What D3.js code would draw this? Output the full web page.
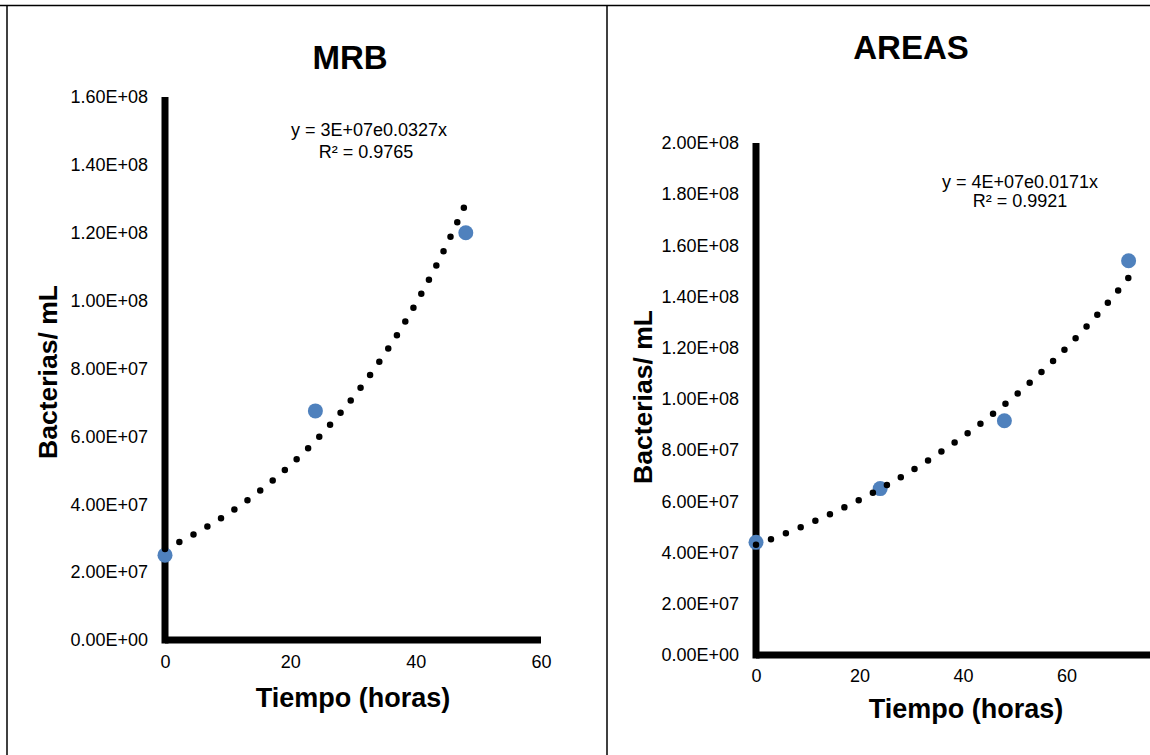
<!DOCTYPE html>
<html>
<head>
<meta charset="utf-8">
<script src="https://cdn.jsdelivr.net/npm/d3@7/dist/d3.min.js"></script>
<style>
  html, body { margin: 0; padding: 0; background: #fff; }
  svg { display: block; font-family: Arial, "Liberation Sans", sans-serif; }
</style>
</head>
<body>
<svg id="chart" width="1150" height="755"></svg>
<script>
// Bacterial growth over time, two media
const mrbHours = [0, 24, 48];
const mrbCounts = [2.5e7, 6.75e7, 1.2e8];
const mrbYTicks = [0, 2e7, 4e7, 6e7, 8e7, 1e8, 1.2e8, 1.4e8, 1.6e8];
const mrbXTicks = [0, 20, 40, 60];
const mrbEquation = ["y = 3E+07e0.0327x", "R² = 0.9765"];

const areasHours = [0, 24, 48, 72];
const areasCounts = [4.4e7, 6.5e7, 9.15e7, 1.54e8];
const areasYTicks = [0, 2e7, 4e7, 6e7, 8e7, 1e8, 1.2e8, 1.4e8, 1.6e8, 1.8e8, 2e8];
const areasXTicks = [0, 20, 40, 60];
const areasEquation = ["y = 4E+07e0.0171x", "R² = 0.9921"];

const xTitle = "Tiempo (horas)";
const yTitle = "Bacterias/ mL";

const svg = d3.select("#chart");

// sci-notation labels like 1.60E+08
function sci(v) {
  if (v === 0) return "0.00E+00";
  const s = v.toExponential(2).toUpperCase();
  const [m, e] = s.split("E");
  const sign = e[0] === "-" ? "-" : "+";
  const digits = e.replace(/[+-]/, "").padStart(2, "0");
  return m + "E" + sign + digits;
}

// least-squares exponential fit y = a·e^(b·x) on log values
function expFit(xs, ys) {
  const n = xs.length;
  const ls = ys.map(Math.log);
  const mx = d3.mean(xs), ml = d3.mean(ls);
  let sxy = 0, sxx = 0;
  for (let i = 0; i < n; i++) { sxy += (xs[i] - mx) * (ls[i] - ml); sxx += (xs[i] - mx) ** 2; }
  const b = sxy / sxx;
  const a = Math.exp(ml - b * mx);
  return { a, b };
}

// frame lines
const frame = svg.append("g").attr("stroke", "#000").attr("stroke-width", 1.5);
frame.append("line").attr("x1", 0).attr("x2", 1150).attr("y1", 5.5).attr("y2", 5.5);
frame.append("line").attr("x1", 7).attr("x2", 7).attr("y1", 5).attr("y2", 755);
frame.append("line").attr("x1", 607).attr("x2", 607).attr("y1", 5).attr("y2", 755);

function drawPanel(cfg) {
  const g = svg.append("g");
  const x = d3.scaleLinear().domain(cfg.xDomain).range([cfg.left, cfg.right]);
  const y = d3.scaleLinear().domain(cfg.yDomain).range([cfg.bottom, cfg.top]);

  // title
  g.append("text").attr("x", cfg.titleX).attr("y", cfg.titleY)
    .attr("text-anchor", "middle").attr("font-size", 33).attr("font-weight", "bold")
    .text(cfg.title);

  // y axis
  const yAxis = d3.axisLeft(y).tickValues(cfg.yTicks).tickFormat(sci).tickSize(0).tickPadding(17);
  const ya = g.append("g").attr("transform", `translate(${cfg.left},0)`).call(yAxis);
  ya.select(".domain").remove();
  ya.selectAll("text").attr("font-size", 18).attr("font-family", "Arial, 'Liberation Sans', sans-serif").attr("fill", "#000");

  // x axis
  const xAxis = d3.axisBottom(x).tickValues(cfg.xTicks).tickFormat(d3.format("d")).tickSize(0).tickPadding(cfg.xPad);
  const xa = g.append("g").attr("transform", `translate(0,${cfg.bottom})`).call(xAxis);
  xa.select(".domain").remove();
  xa.selectAll("text").attr("font-size", 18).attr("font-family", "Arial, 'Liberation Sans', sans-serif").attr("fill", "#000");

  // heavy axis lines
  g.append("line").attr("x1", cfg.left).attr("x2", cfg.left)
    .attr("y1", y(cfg.yDomain[1])).attr("y2", cfg.bottom + 3.5)
    .attr("stroke", "#000").attr("stroke-width", 7);
  g.append("line").attr("x1", cfg.left).attr("x2", x(cfg.xEnd))
    .attr("y1", cfg.bottom).attr("y2", cfg.bottom)
    .attr("stroke", "#000").attr("stroke-width", 7);

  // axis titles
  g.append("text").attr("x", cfg.xTitleX).attr("y", cfg.xTitleY)
    .attr("text-anchor", "middle").attr("font-size", 27).attr("font-weight", "bold")
    .text(xTitle);
  g.append("text")
    .attr("transform", `translate(${cfg.yTitleX},${cfg.yTitleY}) rotate(-90)`)
    .attr("text-anchor", "middle").attr("font-size", 26.5).attr("font-weight", "bold")
    .text(yTitle);

  // markers
  const pts = cfg.xs.map((v, i) => [v, cfg.ys[i]]);
  g.selectAll("circle.pt").data(pts).join("circle").attr("class", "pt")
    .attr("cx", d => x(d[0])).attr("cy", d => y(d[1])).attr("r", 7.5)
    .attr("fill", "#4F81BD");

  // exponential trendline, dotted
  const fit = expFit(cfg.xs, cfg.ys);
  const x0 = d3.min(cfg.xs), x1 = d3.max(cfg.xs);
  const samples = d3.range(0, 201).map(i => x0 + (x1 - x0) * i / 200);
  const line = d3.line().x(d => x(d)).y(d => y(fit.a * Math.exp(fit.b * d)));
  g.append("path").datum(samples).attr("d", line)
    .attr("fill", "none").attr("stroke", "#000").attr("stroke-width", 6.5)
    .attr("stroke-linecap", "round").attr("stroke-dasharray", "0 16");

  // equation label
  const eq = g.append("text").attr("text-anchor", "middle").attr("font-size", 18);
  cfg.equation.forEach((t, i) => {
    eq.append("tspan").attr("x", cfg.eqX[i]).attr("y", cfg.eqY[i]).text(t);
  });
}

drawPanel({
  title: "MRB", titleX: 350, titleY: 69,
  xs: mrbHours, ys: mrbCounts,
  xDomain: [0, 60], yDomain: [0, 1.6e8], xEnd: 60,
  left: 165, right: 541, top: 97, bottom: 640,
  yTicks: mrbYTicks, xTicks: mrbXTicks, xPad: 15,
  xTitleX: 353, xTitleY: 707, yTitleX: 57, yTitleY: 372,
  equation: mrbEquation, eqX: [369, 366], eqY: [136, 158]
});

drawPanel({
  title: "AREAS", titleX: 911, titleY: 59,
  xs: areasHours, ys: areasCounts,
  xDomain: [0, 80], yDomain: [0, 2e8], xEnd: 80,
  left: 756, right: 1170, top: 143, bottom: 655,
  yTicks: areasYTicks, xTicks: areasXTicks, xPad: 14,
  xTitleX: 966, xTitleY: 718, yTitleX: 652, yTitleY: 397,
  equation: areasEquation, eqX: [1020, 1020], eqY: [188, 207]
});
</script>
</body>
</html>
